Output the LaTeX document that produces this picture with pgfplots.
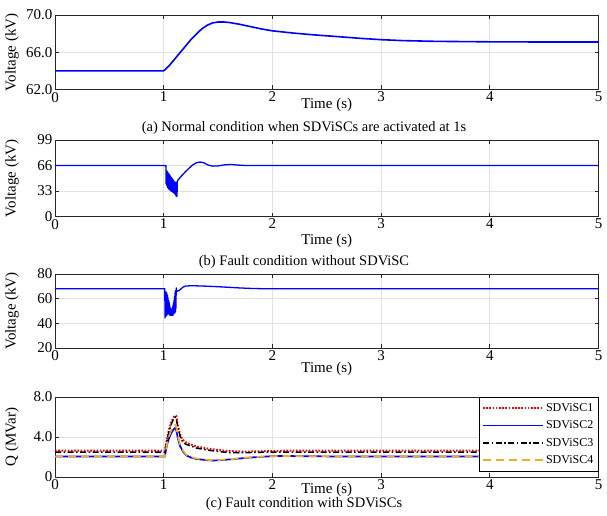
\documentclass[border=0pt]{standalone}
\usepackage{fontspec}
\setmainfont{Liberation Serif}
\usepackage{pgfplots}
\pgfplotsset{compat=1.18}
\definecolor{mborange}{RGB}{237,177,32}
\definecolor{gridgray}{RGB}{225,225,225}
\definecolor{axgray}{RGB}{38,38,38}
\pgfplotsset{
  base/.style={
    scale only axis, width=543.5pt, xmin=0, xmax=5,
    xtick={0,1,2,3,4,5},
    grid=major, major grid style={gridgray, line width=0.8pt},
    axis line style={axgray, line width=0.8pt},
    tick style={axgray, line width=0.8pt}, major tick length=4pt,
    tick align=inside,
    /pgf/number format/assume math mode=true,
    tick label style={font=\fontsize{15}{16}\selectfont},
    label style={font=\fontsize{15}{16}\selectfont},
    xticklabel style={yshift=1pt},
    yticklabel style={xshift=1pt},
    xlabel={Time (s)},
    ylabel style={at={(axis description cs:0,0.5)}, anchor=center, yshift=43pt},
  },
  vline/.style={blue, line width=1.6pt},
  s1/.style={color=red, line width=2pt, dash pattern=on 1.6pt off 1.6pt},
  s2/.style={color=blue, line width=1.7pt, solid},
  s3/.style={color=black, line width=1.5pt, dash pattern=on 6pt off 2.5pt on 1.5pt off 2.5pt},
  s4/.style={color=mborange, line width=1.7pt, dash pattern=on 8pt off 5pt},
}
\begin{document}
\begin{tikzpicture}
\useasboundingbox (0,0) rectangle (607pt,-516pt);
% ---------------- (a)
\begin{axis}[base, at={(55pt,-89.5pt)}, anchor=south west, height=74.5pt,
  ymin=62, ymax=70, ytick={62,66,70}, yticklabels={62.0,66.0,70.0},
  ylabel={Voltage (kV)},
  xlabel style={at={(axis description cs:0.5,0)}, anchor=center, yshift=-15pt}]
\addplot[vline] coordinates {
(0,64.0) (1.0,64.0) (1.05,64.55) (1.1,65.25) (1.15,65.95) (1.2,66.65) (1.25,67.35)
(1.3,67.95) (1.35,68.5) (1.4,68.9) (1.45,69.15) (1.5,69.25) (1.55,69.25) (1.6,69.2)
(1.7,69.0) (1.8,68.75) (1.9,68.5) (2.0,68.3) (2.2,68.05) (2.4,67.85) (2.6,67.68)
(2.8,67.5) (3.0,67.35) (3.2,67.25) (3.5,67.17) (4.0,67.12) (4.5,67.1) (5.0,67.1)};
\end{axis}
\node[font=\fontsize{14.5}{16}\selectfont] at (304pt,-128pt) {(a) Normal condition when SDViSCs are activated at 1s};
% ---------------- (b)
\begin{axis}[base, at={(55pt,-216.5pt)}, anchor=south west, height=76.5pt,
  ymin=0, ymax=99, ytick={0,33,66,99},
  ylabel={Voltage (kV)},
  xlabel style={at={(axis description cs:0.5,0)}, anchor=center, yshift=-24pt}]
\addplot[vline, line width=1.3pt] coordinates {
(0,66) (1.02,66)
(1.0225,42) (1.025,60) (1.0275,40) (1.03,59) (1.0325,39) (1.035,58) (1.0375,37)
(1.04,57) (1.0425,36) (1.045,56) (1.0475,35) (1.05,55) (1.0525,34) (1.055,54)
(1.0575,34) (1.06,53) (1.0625,33) (1.065,52) (1.0675,33) (1.07,51) (1.0725,32)
(1.075,50) (1.0775,32) (1.08,49) (1.0825,31) (1.085,48) (1.0875,31) (1.09,47)
(1.0925,30) (1.095,46) (1.0975,30) (1.1,45) (1.1025,29) (1.105,45) (1.1075,28)
(1.11,44) (1.1125,26) (1.115,44) (1.1175,25) (1.12,45) (1.1225,26) (1.125,45)
(1.13,47) (1.16,52) (1.2,58) (1.23,62) (1.26,66) (1.3,69.5) (1.335,70.5)
(1.37,69.5) (1.41,66.5) (1.45,65.2) (1.5,65.5) (1.56,66.8) (1.62,67.3)
(1.68,66.6) (1.75,66.0) (5,66)};
\end{axis}
\node[font=\fontsize{14.5}{16}\selectfont] at (304pt,-262pt) {(b) Fault condition without SDViSC};
% ---------------- (b2)
\begin{axis}[base, at={(55pt,-348pt)}, anchor=south west, height=74pt,
  ymin=20, ymax=80, ytick={20,40,60,80},
  ylabel={Voltage (kV)},
  xlabel style={at={(axis description cs:0.5,0)}, anchor=center, yshift=-21pt}]
\addplot[vline, line width=1.3pt] coordinates {
(0,68) (1.01,68)
(1.0125,44) (1.015,66) (1.0175,45) (1.02,66) (1.0225,46) (1.025,65) (1.0275,46)
(1.03,64) (1.0325,47) (1.035,63) (1.0375,48) (1.04,61) (1.0425,48) (1.045,59)
(1.0475,47) (1.05,57) (1.0525,47) (1.055,55) (1.0575,46) (1.06,53) (1.0625,46)
(1.065,52) (1.0675,46) (1.07,52) (1.0725,46) (1.075,52) (1.0775,46) (1.08,53)
(1.0825,46) (1.085,55) (1.0875,47) (1.09,57) (1.0925,47) (1.095,59) (1.0975,48)
(1.1,62) (1.1025,48) (1.105,65) (1.1075,49) (1.11,67) (1.1125,52) (1.115,69)
(1.12,66) (1.14,66.5) (1.16,68) (1.18,69.5) (1.2,70.2) (1.25,70.5) (1.3,70.4)
(1.4,70.1) (1.5,69.7) (1.6,69.2) (1.7,68.7) (1.8,68.3) (1.9,68.1) (2.0,68) (5,68)};
\end{axis}
% ---------------- (c)
\begin{axis}[base, at={(55pt,-477pt)}, anchor=south west, height=80pt,
  ymin=0, ymax=8, ytick={0,4,8}, yticklabels={0,4.0,8.0},
  ylabel={Q (MVar)},
  xlabel style={at={(axis description cs:0.5,0)}, anchor=center, yshift=-13pt},
  legend style={at={(1,1)}, anchor=north east, draw=black,
    fill=white, font=\fontsize{12}{14}\selectfont, row sep=4pt,
    inner xsep=3pt, inner ysep=4pt},
  legend cell align=left,
  legend image code/.code={\draw[mark repeat=2,mark phase=2] plot coordinates {(0pt,0pt) (30pt,0pt) (60pt,0pt)};}]
\addplot[s1] coordinates {
(0,2.65) (1.01,2.65) (1.03,3.8) (1.05,4.8) (1.07,5.5) (1.09,5.95) (1.105,6.15)
(1.115,6.1) (1.13,5.2) (1.15,4.3) (1.17,3.8) (1.2,3.5) (1.25,3.25) (1.3,3.05)
(1.4,2.85) (1.5,2.7) (1.6,2.6) (1.7,2.55) (1.8,2.55) (2.0,2.6) (2.2,2.65) (5,2.65)};
\addlegendentry{SDViSC1}
\addplot[s2] coordinates {
(0,2.05) (1.01,2.05) (1.03,3.2) (1.05,3.9) (1.07,4.4) (1.09,4.75) (1.105,4.9)
(1.115,4.7) (1.13,3.9) (1.15,3.1) (1.18,2.5) (1.21,2.15) (1.25,1.95) (1.3,1.8)
(1.4,1.68) (1.45,1.65) (1.5,1.67) (1.6,1.75) (1.7,1.85) (1.8,1.95) (1.9,2.02)
(2.0,2.08) (2.1,2.1) (2.3,2.08) (2.6,2.05) (5,2.05)};
\addlegendentry{SDViSC2}
\addplot[s3] coordinates {
(0,2.5) (1.01,2.5) (1.03,3.6) (1.05,4.6) (1.07,5.3) (1.09,5.8) (1.105,6.0)
(1.115,5.9) (1.13,5.0) (1.15,4.1) (1.17,3.6) (1.2,3.3) (1.25,3.1) (1.3,2.9)
(1.4,2.7) (1.5,2.55) (1.6,2.45) (1.7,2.42) (1.8,2.45) (2.0,2.5) (5,2.5)};
\addlegendentry{SDViSC3}
\addplot[s4] coordinates {
(0,2.05) (1.01,2.05) (1.03,3.3) (1.05,4.1) (1.07,4.7) (1.09,5.05) (1.105,5.2)
(1.115,5.0) (1.13,4.1) (1.15,3.3) (1.18,2.6) (1.21,2.2) (1.25,2.0) (1.3,1.85)
(1.4,1.72) (1.45,1.68) (1.5,1.7) (1.6,1.77) (1.7,1.87) (1.8,1.97) (1.9,2.03)
(2.0,2.08) (2.1,2.1) (2.3,2.08) (2.6,2.05) (5,2.05)};
\addlegendentry{SDViSC4}
\end{axis}
\node[font=\fontsize{14.5}{16}\selectfont] at (304pt,-504pt) {(c) Fault condition with SDViSCs};
\end{tikzpicture}
\end{document}
